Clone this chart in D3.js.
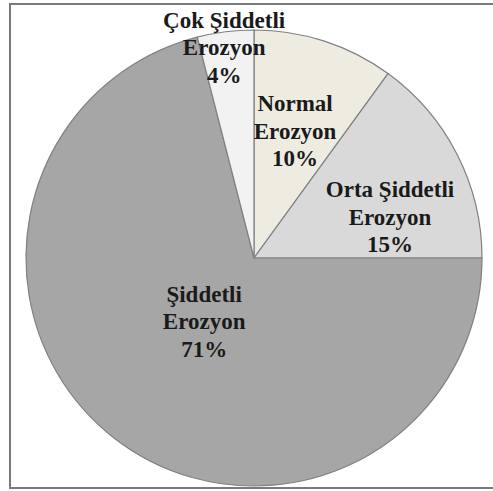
<!DOCTYPE html>
<html>
<head>
<meta charset="utf-8">
<script src="https://cdn.jsdelivr.net/npm/d3@7"></script>
<style>
  body { margin: 0; background: #fff; }
  svg text { font-family: "Liberation Serif", "Times New Roman", "DejaVu Serif", serif; font-weight: bold; fill: #1a1a1a; }
</style>
</head>
<body>
<svg id="chart" width="493" height="491"></svg>
<script>
// slices, clockwise from 12 o'clock
const categories = ["Normal Erozyon", "Orta Şiddetli Erozyon", "Şiddetli Erozyon", "Çok Şiddetli Erozyon"];
const values = [10, 15, 71, 4];
const labelLines = [
  ["Normal", "Erozyon", "10%"],
  ["Orta Şiddetli", "Erozyon", "15%"],
  ["Şiddetli", "Erozyon", "71%"],
  ["Çok Şiddetli", "Erozyon", "4%"]
];
const colors = ["#eeece1", "#d9d9d9", "#a6a6a6", "#f2f2f2"];

let svg = d3.select("svg#chart");

// outer frame (right side runs off the picture)
svg.append("path")
  .attr("d", "M494,4 H10 V488 H494")
  .attr("fill", "none")
  .attr("stroke", "#7a7a7a")
  .attr("stroke-width", 2);

var cx = 254, cy = 258, radius = 228;

var pie = d3.pie().sort(null).value(d => d);
var arc = d3.arc().innerRadius(0).outerRadius(radius);

var color = d3.scaleOrdinal().domain(categories).range(colors);

var arcs = pie(values);

var g = svg.append("g")
  .attr("transform", `translate(${cx},${cy})`);

g.selectAll("path.slice")
  .data(arcs)
  .enter().append("path")
  .attr("class", "slice")
  .attr("d", arc)
  .attr("fill", (d, i) => color(categories[i]))
  .attr("stroke", "#808080")
  .attr("stroke-width", 1.2);

// label anchors: fraction of radius, plus a small nudge of the angle (degrees)
var labelRadius = [0.583, 0.622, 0.357, 0.93];
var labelTurn = [0, 10.6, 0, -0.9];
var lineGap = 27.5;

g.selectAll("text.label")
  .data(arcs)
  .enter().append("text")
  .attr("class", "label")
  .attr("text-anchor", "middle")
  .attr("font-size", 23)
  .each(function (d, i) {
    let a = (d.startAngle + d.endAngle) / 2 + labelTurn[i] * Math.PI / 180;
    let r = radius * labelRadius[i];
    let x = Math.sin(a) * r;
    let y = -Math.cos(a) * r;
    let lines = labelLines[i];
    let t = d3.select(this);
    lines.forEach((s, k) => {
      t.append("tspan")
        .attr("x", x)
        .attr("y", y + (k - (lines.length - 1) / 2) * lineGap + 7)
        .text(s);
    });
  });
</script>
</body>
</html>
